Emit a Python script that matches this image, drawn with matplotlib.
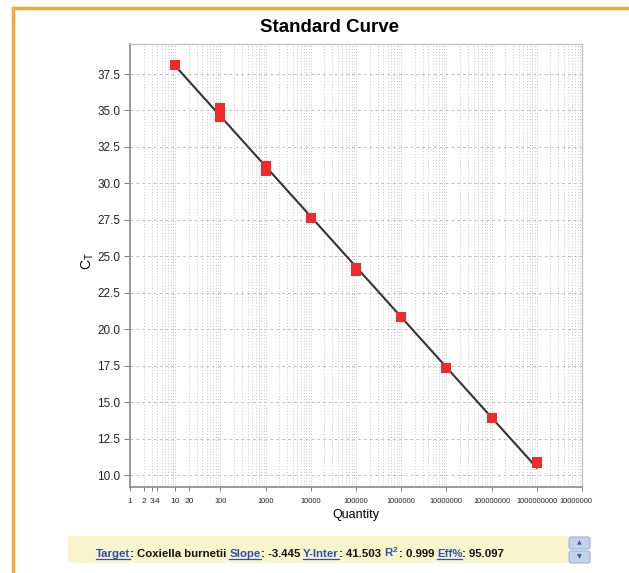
import matplotlib
matplotlib.use('Agg')
import matplotlib.pyplot as plt
import numpy as np
from matplotlib.patches import Rectangle, FancyBboxPatch
from matplotlib.ticker import LogLocator, NullFormatter
from matplotlib.transforms import Bbox

plt.rcParams['font.family'] = ['Liberation Sans', 'DejaVu Sans']

# data
quantity = [10, 100, 100, 1000, 1000, 10000, 100000, 100000, 1000000, 10000000, 100000000, 1000000000, 1000000000]
ct = [38.14, 35.18, 34.55, 31.21, 30.87, 27.62, 24.22, 24.02, 20.83, 17.33, 13.90, 10.92, 10.84]
fit_x = [10, 1000000000]
fit_y = [38.06, 10.50]
xtick_vals = [1, 2, 3, 4, 10, 20, 100, 1000, 10000, 100000, 1000000, 10000000,
              100000000, 1000000000, 10000000000]
xtick_labels = [str(v) for v in xtick_vals]
ytick_vals = [10.0, 12.5, 15.0, 17.5, 20.0, 22.5, 25.0, 27.5, 30.0, 32.5, 35.0, 37.5]

W, H = 629, 573
fig = plt.figure(figsize=(W / 100, H / 100), dpi=100)
fig.patch.set_facecolor('white')

def px(x0, y0, x1, y1):
    # pixel box (top-left origin) -> figure fraction rect
    return [x0 / W, 1 - y1 / H, (x1 - x0) / W, (y1 - y0) / H]

ax = fig.add_axes(px(130, 44, 582, 487))
ax.set_xscale('log')
ax.set_xlim(1, 1e10)
ax.set_ylim(9.18, 39.56)

ax.plot(fit_x, fit_y, color='#333333', lw=1.5, zorder=3)
ax.plot(quantity, ct, 's', color='#EE2A2A', markersize=7, markeredgewidth=0, zorder=4)

ax.set_xticks(xtick_vals)
ax.set_xticklabels(xtick_labels, fontsize=5.3, color='#222222')
for lab in ax.get_xticklabels()[:6]:
    lab.set_fontsize(6)
ax.xaxis.set_minor_locator(LogLocator(base=10, subs=np.arange(2, 10), numticks=20))
ax.xaxis.set_minor_formatter(NullFormatter())
ax.tick_params(axis='x', which='major', length=3, width=0.6, color='#666666', pad=5)
ax.tick_params(axis='x', which='minor', length=0)
ax.set_yticks(ytick_vals)
ax.set_yticklabels(['%.1f' % v for v in ytick_vals], fontsize=8.5, color='#222222')
ax.tick_params(axis='y', length=4, width=0.6, color='#666666', pad=3)

ax.grid(True, axis='x', which='both', color='#C6C6C6', ls=(0, (1, 2)), lw=0.7)
ax.grid(True, axis='y', which='major', color='#C0C0C0', ls=(0, (3, 3)), lw=0.7)
ax.set_axisbelow(True)

for s in ['left', 'bottom']:
    ax.spines[s].set_color('#888888')
    ax.spines[s].set_linewidth(1.2)
for s in ['top', 'right']:
    ax.spines[s].set_color('#C4C4C4')
    ax.spines[s].set_linewidth(1.0)

ax.set_xlabel('Quantity', fontsize=9, labelpad=3)
ax.set_ylabel(r'C$\mathregular{_T}$', fontsize=10)
ax.yaxis.set_label_coords(-0.075, 0.51)
fig.text(329 / W, 1 - 28 / H, 'Standard Curve', fontsize=13.5, fontweight='bold',
         ha='center', va='center')

# clip the last x label at the panel edge like the original
clip = Bbox.from_extents(0, 0, 592, H)
ax.get_xticklabels()[-1].set_clip_box(clip)
ax.get_xticklabels()[-1].set_clip_on(True)

# orange frame
fig.add_artist(plt.Line2D([13 / W, 13 / W], [0, 1 - 8 / H], color='#F6A934', lw=2.5,
                          transform=fig.transFigure))
fig.add_artist(plt.Line2D([13 / W, 1], [1 - 8 / H, 1 - 8 / H], color='#F6A934', lw=2.5,
                          transform=fig.transFigure))

# info bar
fig.add_artist(Rectangle((68 / W, 1 - 563 / H), (568 - 68) / W, 27 / H,
                         transform=fig.transFigure, facecolor='#F8F5CC', edgecolor='none'))
for (y0, y1, arrow) in [(537, 549, '\u25B2'), (551, 563, '\u25BC')]:
    fig.add_artist(FancyBboxPatch((569 / W, 1 - y1 / H), 21 / W, (y1 - y0) / H,
                                  boxstyle='round,pad=0,rounding_size=0.004',
                                  transform=fig.transFigure, facecolor='#C3D3EC',
                                  edgecolor='#9AAFD2', lw=0.8))
    fig.text(579.5 / W, 1 - (y0 + y1) / 2 / H, arrow, fontsize=4.5, color='#3D5A8A',
             ha='center', va='center', family='DejaVu Sans')

pieces = [('Target', '#2C4FA8', True), (': Coxiella burnetii ', '#111111', False),
          ('Slope', '#2C4FA8', True), (': -3.445 ', '#111111', False),
          ('Y-Inter', '#2C4FA8', True), (': 41.503 ', '#111111', False),
          (r'R$^\mathregular{2}$', '#2C4FA8', False), (': 0.999 ', '#111111', False),
          ('Eff%', '#2C4FA8', True), (': 95.097', '#111111', False)]
fig.canvas.draw()
r = fig.canvas.get_renderer()
texts = []
x = 0
for txt, col, ul in pieces:
    t = fig.text(0, 0, txt, fontsize=8.2, fontweight='bold', color=col,
                 transform=None, va='baseline')
    w = t.get_window_extent(r).width
    texts.append((t, w, ul, col))
    x += w
start = 300 - x / 2
base = H - 557
cur = start
for t, w, ul, col in texts:
    t.set_position((cur, base))
    if ul:
        fig.add_artist(plt.Line2D([cur, cur + w], [base - 2, base - 2], color=col, lw=0.9,
                                  transform=None))
    cur += w

fig.savefig('out.png', dpi=100)
